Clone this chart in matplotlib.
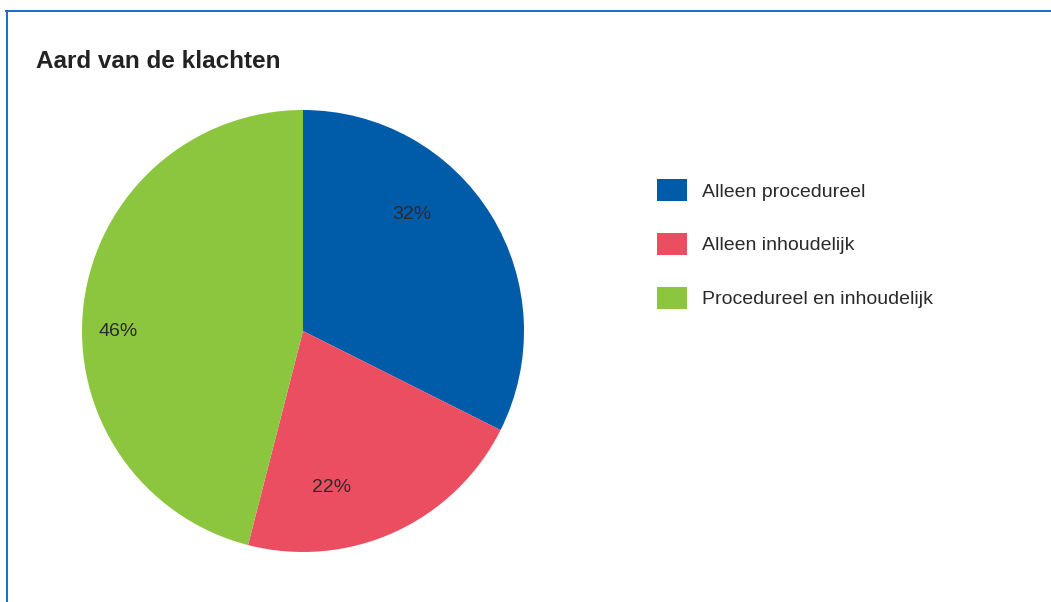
import matplotlib
matplotlib.use("Agg")
import matplotlib.pyplot as plt
from matplotlib.lines import Line2D

# data
categories = ["Alleen procedureel", "Alleen inhoudelijk", "Procedureel en inhoudelijk"]
shares = [32.4, 21.6, 46.0]
colors = ["#005ca9", "#ea4e60", "#8cc63f"]
title = "Aard van de klachten"

W, H = 1051, 602
TEXT = "#2a2a2a"
FRAME = "#1a6ac4"

plt.rcParams["font.family"] = ["Liberation Sans", "DejaVu Sans"]

fig = plt.figure(figsize=(W / 100, H / 100), dpi=100)

# blue frame: left and top edges only
fig.add_artist(Line2D([6.5 / W, 6.5 / W], [0, 1 - 11 / H], transform=fig.transFigure,
                      color=FRAME, lw=1.4))
fig.add_artist(Line2D([6 / W, 1], [1 - 11 / H, 1 - 11 / H], transform=fig.transFigure,
                      color=FRAME, lw=1.4))

fig.text(36 / W, 1 - 68.5 / H, title, fontsize=17.5, fontweight="bold",
         color="#222222", ha="left", va="baseline")

# pie axes: centre (303, 331), radius 221 px
cx, cy, r = 303, 331, 221
ax = fig.add_axes([(cx - r) / W, 1 - (cy + r) / H, 2 * r / W, 2 * r / H])
wedges, texts, autotexts = ax.pie(
    shares, colors=colors, startangle=90, counterclock=False, radius=1,
    autopct="%.0f%%", pctdistance=0.72,
    textprops=dict(fontsize=14, color=TEXT),
    wedgeprops=dict(linewidth=0),
)
ax.set_xlim(-1, 1)
ax.set_ylim(-1, 1)
ax.set_aspect("equal")
ax.axis("off")

# label positions as in the original (fractions of radius)
label_pos = [(0.49, 0.525), (0.127, -0.71), (-0.837, 0.0)]
for t, p in zip(autotexts, label_pos):
    t.set_position(p)
    t.set_ha("center")
    t.set_va("center")

fs = 14
fpx = fs * 100 / 72
hh = 26.8 / fpx
leg = fig.legend(
    wedges, categories, loc="upper left",
    bbox_to_anchor=(657 / W, 1 - 179 / H), bbox_transform=fig.transFigure,
    frameon=False, fontsize=fs, borderpad=0, borderaxespad=0,
    handlelength=30 / fpx, handleheight=hh,
    handletextpad=15 / fpx, labelspacing=(54 - 26.8 + 4.5) / fpx,
    labelcolor=TEXT,
)

fig.savefig("out.png", dpi=100)
